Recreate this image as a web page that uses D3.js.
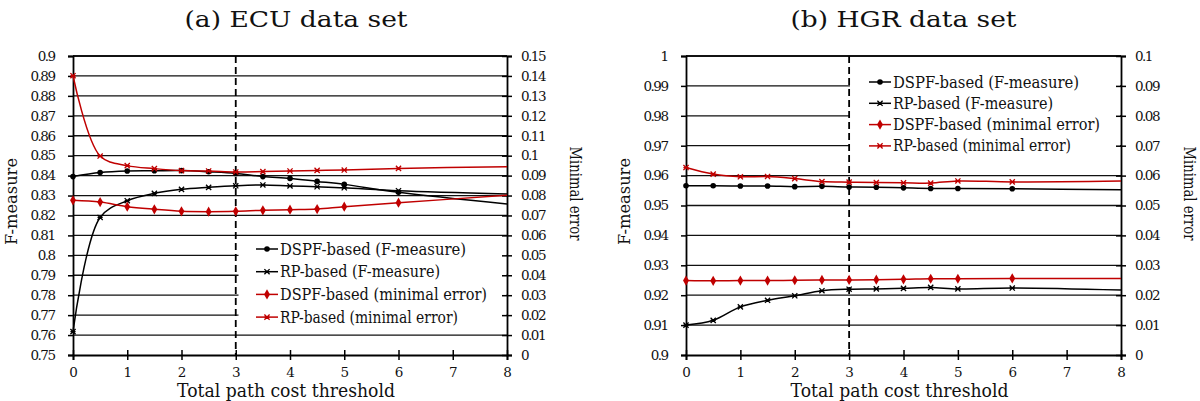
<!DOCTYPE html>
<html><head><meta charset="utf-8">
<script src="https://cdn.jsdelivr.net/npm/d3@7"></script>
<style>
html,body{margin:0;padding:0;background:#fff;}
</style></head>
<body><svg id="chart" width="1200" height="401"></svg>
<script>
// ---- data ----
const thresholds = [0, 0.5, 1, 1.5, 2, 2.5, 3, 3.5, 4, 4.5, 5, 6, 8];
const xTicks = [0, 1, 2, 3, 4, 5, 6, 7, 8];
const seriesNames = ["DSPF-based (F-measure)", "RP-based (F-measure)", "DSPF-based (minimal error)", "RP-based (minimal error)"];

// (a) ECU
const ecuDspfF = [0.8395, 0.8415, 0.8423, 0.8424, 0.8425, 0.8419, 0.8411, 0.8395, 0.8386, 0.8371, 0.8356, 0.8316, 0.8257];
const ecuRpF   = [0.7617, 0.8190, 0.8274, 0.8311, 0.8331, 0.8341, 0.8349, 0.8353, 0.8348, 0.8344, 0.8339, 0.8324, 0.8308];
const ecuDspfErr = [0.0776, 0.0767, 0.0744, 0.0731, 0.0721, 0.0719, 0.0721, 0.0726, 0.0729, 0.0732, 0.0744, 0.0764, 0.0801];
const ecuRpErr   = [0.1401, 0.0998, 0.0950, 0.0935, 0.0925, 0.0923, 0.0918, 0.0920, 0.0923, 0.0926, 0.0928, 0.0936, 0.0945];
const ecuFTicks = [0.75,0.76,0.77,0.78,0.79,0.8,0.81,0.82,0.83,0.84,0.85,0.86,0.87,0.88,0.89,0.9];
const ecuErrTicks = [0,0.01,0.02,0.03,0.04,0.05,0.06,0.07,0.08,0.09,0.1,0.11,0.12,0.13,0.14,0.15];

// (b) HGR
const hgrDspfF = [0.9566, 0.9566, 0.9565, 0.9565, 0.9563, 0.9564, 0.9562, 0.9561, 0.9559, 0.9557, 0.9557, 0.9556, 0.9553];
const hgrRpF   = [0.9100, 0.9116, 0.9161, 0.9183, 0.9198, 0.9215, 0.9220, 0.9221, 0.9223, 0.9226, 0.9221, 0.9224, 0.9217];
const hgrDspfErr = [0.0249, 0.0248, 0.0249, 0.0249, 0.0250, 0.0251, 0.0251, 0.0252, 0.0253, 0.0255, 0.0255, 0.0256, 0.0256];
const hgrRpErr   = [0.0627, 0.0605, 0.0596, 0.0597, 0.0590, 0.0580, 0.0578, 0.0577, 0.0576, 0.0575, 0.0582, 0.0579, 0.0582];
const hgrFTicks = [0.9,0.91,0.92,0.93,0.94,0.95,0.96,0.97,0.98,0.99,1];
const hgrErrTicks = [0,0.01,0.02,0.03,0.04,0.05,0.06,0.07,0.08,0.09,0.1];

const RED = "#c00000", BLACK = "#000";
const FONT = "'DejaVu Serif', serif";
const svg = d3.select("#chart");

function txt(sel, size) {
  return sel.attr("font-family", FONT).style("font-family", FONT).attr("font-size", size).style("font-size", size + "px").attr("fill", "#111");
}

function marker(g, type, color, x, y) {
  if (type === "dot") {
    g.append("circle").attr("cx", x).attr("cy", y).attr("r", 2.8).attr("fill", color);
  } else if (type === "diamond") {
    g.append("path").attr("d", d3.symbol(d3.symbolDiamond, 30)()).attr("transform", `translate(${x},${y})`).attr("fill", color);
  } else {
    const s = 2.6;
    g.append("path").attr("d", `M${x-s},${y-s}L${x+s},${y+s}M${x-s},${y+s}L${x+s},${y-s}M${x-s},${y}L${x+s},${y}`)
      .attr("stroke", color).attr("stroke-width", 1.3).attr("fill", "none");
  }
}

function panel(o) {
  const g = svg.append("g");
  const x = d3.scaleLinear().domain([0, 8]).range([o.x0, o.x1]);
  const yF = d3.scaleLinear().domain(o.fDomain).range([o.yB, o.yT]);
  const yE = d3.scaleLinear().domain(o.eDomain).range([o.yB, o.yT]);

  g.append("g").selectAll("line").data(o.fTicks.slice(1)).join("line")
    .attr("x1", o.x0).attr("x2", o.x1).attr("y1", d => yF(d)).attr("y2", d => yF(d))
    .attr("stroke", "#111").attr("stroke-width", 1.3);

  g.append("rect").attr("x", o.leg.rx).attr("y", o.leg.ry).attr("width", o.leg.rw).attr("height", o.leg.rh).attr("fill", "#fff");

  g.append("line").attr("x1", x(3)).attr("x2", x(3)).attr("y1", o.yT).attr("y2", o.yB)
    .attr("stroke", "#000").attr("stroke-width", 1.8).attr("stroke-dasharray", "7,4");

  const fmt = d => String(+d.toFixed(2));
  const axL = g.append("g").attr("transform", `translate(${o.x0},0)`)
    .call(d3.axisLeft(yF).tickValues(o.fTicks).tickSize(5).tickFormat(fmt));
  const axR = g.append("g").attr("transform", `translate(${o.x1},0)`)
    .call(d3.axisRight(yE).tickValues(o.eTicks).tickSize(5).tickFormat(fmt));
  axR.selectAll(".tick line").attr("x1", -5);
  const axB = g.append("g").attr("transform", `translate(0,${o.yB})`)
    .call(d3.axisBottom(x).tickValues(xTicks).tickSize(5).tickFormat(d3.format("d")));
  axB.selectAll(".tick line").attr("y1", -5);
  [axL, axR, axB].forEach(a => {
    a.attr("font-family", FONT);
    a.select(".domain").attr("stroke", "#000").attr("stroke-width", 1.8);
    a.selectAll(".tick line").attr("stroke", "#000").attr("stroke-width", 1.5);
    txt(a.selectAll("text"), 13.5);
  });
  axL.selectAll("text").attr("x", -17).attr("textLength", function () { return this.textContent.length > 1 ? this.getComputedTextLength() * 0.85 : null; });
  axR.selectAll("text").attr("x", 14).attr("textLength", function () { return this.textContent.length > 1 ? this.getComputedTextLength() * 0.85 : null; });
  axB.selectAll("text").attr("y", 12);
  g.append("line").attr("x1", o.x0).attr("x2", o.x1).attr("y1", o.yT).attr("y2", o.yT).attr("stroke", "#000").attr("stroke-width", 1.3);

  const line = (ys, sc) => d3.line().x((d, i) => x(thresholds[i])).y(d => sc(d)).curve(d3.curveCatmullRom.alpha(0.5))(ys);
  const series = [
    {v: o.dspfF, sc: yF, c: BLACK, m: "dot"},
    {v: o.rpF, sc: yF, c: BLACK, m: "star"},
    {v: o.dspfErr, sc: yE, c: RED, m: "diamond"},
    {v: o.rpErr, sc: yE, c: RED, m: "star"}
  ];
  series.forEach(s => {
    g.append("path").attr("d", line(s.v, s.sc)).attr("fill", "none").attr("stroke", s.c).attr("stroke-width", 1.5);
    const mg = g.append("g");
    s.v.forEach((d, i) => { if (thresholds[i] <= 6) marker(mg, s.m, s.c, x(thresholds[i]), s.sc(d)); });
  });

  series.forEach((s, i) => {
    const yy = o.leg.y + i * o.leg.dy;
    g.append("line").attr("x1", o.leg.x).attr("x2", o.leg.x + 22).attr("y1", yy).attr("y2", yy).attr("stroke", s.c).attr("stroke-width", 1.5);
    marker(g, s.m, s.c, o.leg.x + 11, yy);
    txt(g.append("text").attr("x", o.leg.x + 24).attr("y", yy + 5.5), 16)
      .attr("textLength", [186, 160, 207, 178][i]).attr("lengthAdjust", "spacingAndGlyphs").text(seriesNames[i]);
  });

  const cx = (o.x0 + o.x1) / 2;
  txt(g.append("text").attr("x", cx + o.titleDx).attr("y", 27).attr("text-anchor", "middle"), 22.5)
    .attr("textLength", o.titleW).attr("lengthAdjust", "spacingAndGlyphs").text(o.title);
  txt(g.append("text").attr("x", cx - 4).attr("y", 397).attr("text-anchor", "middle"), 18.5)
    .attr("textLength", 218).attr("lengthAdjust", "spacingAndGlyphs").text("Total path cost threshold");
  txt(g.append("text").attr("transform", `translate(${o.x0 - 56},${(o.yT + o.yB) / 2 - 4}) rotate(-90)`).attr("text-anchor", "middle"), 17)
    .attr("textLength", 87).attr("lengthAdjust", "spacingAndGlyphs").text("F-measure");
  txt(g.append("text").attr("transform", `translate(${o.x1 + 63},${(o.yT + o.yB) / 2 - 12}) rotate(90)`).attr("text-anchor", "middle"), 17)
    .attr("textLength", 94).attr("lengthAdjust", "spacingAndGlyphs").text("Minimal error");
}

panel({x0: 73, x1: 507, yT: 56, yB: 355, fDomain: [0.75, 0.9], eDomain: [0, 0.15],
  fTicks: ecuFTicks, eTicks: ecuErrTicks, dspfF: ecuDspfF, rpF: ecuRpF, dspfErr: ecuDspfErr, rpErr: ecuRpErr,
  title: "(a) ECU data set", titleW: 223, titleDx: 6, leg: {x: 256, y: 249, dy: 22.7, rx: 238.5, ry: 237, rw: 268, rh: 96}});
panel({x0: 686, x1: 1121, yT: 56, yB: 355, fDomain: [0.9, 1], eDomain: [0, 0.1],
  fTicks: hgrFTicks, eTicks: hgrErrTicks, dspfF: hgrDspfF, rpF: hgrRpF, dspfErr: hgrDspfErr, rpErr: hgrRpErr,
  title: "(b) HGR data set", titleW: 226, titleDx: 0, leg: {x: 869, y: 82, dy: 21.3, rx: 850, ry: 58, rw: 270, rh: 92}});
</script></body></html>
